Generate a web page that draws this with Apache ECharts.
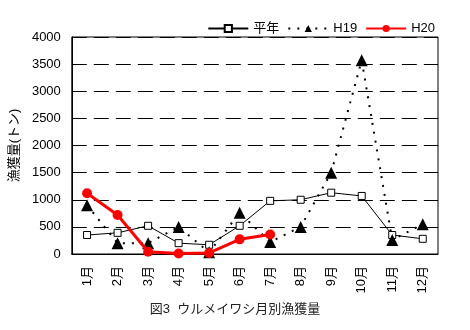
<!DOCTYPE html>
<html><head><meta charset="utf-8">
<script src="https://cdn.jsdelivr.net/npm/echarts@6/dist/echarts.min.js"></script>
<style>html,body{margin:0;padding:0;background:#fff}#c{width:470px;height:330px}</style>
</head><body><div id="c"></div>
<script>
var months = ['1月','2月','3月','4月','5月','6月','7月','8月','9月','10月','11月','12月'];
var heinen = [350, 390, 520, 200, 170, 520, 980, 1000, 1130, 1070, 350, 280];
var h19 = [900, 200, 200, 500, 30, 760, 220, 500, 1500, 3570, 260, 550];
var h20 = [1120, 720, 40, 10, 20, 270, 360];
var yTicks = [0, 500, 1000, 1500, 2000, 2500, 3000, 3500, 4000];
var FONT = '"Liberation Sans","Noto Sans CJK JP",sans-serif';

var chart = echarts.init(document.getElementById('c'));
chart.setOption({
  animation: false,
  textStyle: {fontFamily: FONT, color: '#000'},
  title: {
    text: '図3  ウルメイワシ月別漁獲量', left: 'center', top: 298,
    textStyle: {fontSize: 13, fontWeight: 'normal', color: '#222', fontFamily: FONT}
  },
  legend: {
    right: 30, top: 17, itemWidth: 40, itemHeight: 9, itemGap: 8,
    textStyle: {fontSize: 13, color: '#000', fontFamily: FONT},
    data: ['平年', 'H19', 'H20']
  },
  grid: {left: 68, right: 32, top: 37, bottom: 76, show: true, borderColor: '#000', borderWidth: 1},
  xAxis: {
    type: 'category', data: months, boundaryGap: true,
    axisLine: {lineStyle: {color: '#000', width: 1}},
    axisTick: {inside: true, length: 4, lineStyle: {color: '#000'}},
    axisLabel: {rotate: 90, fontSize: 13, color: '#000', margin: 12, fontFamily: FONT},
    splitLine: {show: false}
  },
  yAxis: {
    type: 'value', min: yTicks[0], max: yTicks[yTicks.length - 1], interval: 500,
    name: '漁獲量(トン)', nameLocation: 'middle', nameGap: 50, nameRotate: 90,
    nameTextStyle: {fontSize: 13, color: '#000', fontFamily: FONT},
    axisLine: {show: true, lineStyle: {color: '#000'}},
    axisTick: {show: false},
    axisLabel: {fontSize: 13, color: '#000', margin: 11, fontFamily: FONT,
      formatter: function (v) { return String(v); }},
    splitLine: {show: true, lineStyle: {color: '#000', type: [15, 7], width: 1}}
  },
  series: [
    {
      name: '平年', type: 'line', data: heinen,
      symbol: 'rect', symbolSize: 7,
      lineStyle: {color: '#000', width: 1},
      itemStyle: {color: '#fff', borderColor: '#000', borderWidth: 1},
      z: 2
    },
    {
      name: 'H19', type: 'line', data: h19,
      symbol: 'triangle', symbolSize: 12,
      lineStyle: {color: '#000', width: 2, type: [2, 7]},
      itemStyle: {color: '#000'},
      z: 3
    },
    {
      name: 'H20', type: 'line', data: h20,
      symbol: 'circle', symbolSize: 10,
      lineStyle: {color: '#ff0000', width: 3},
      itemStyle: {color: '#ff0000'},
      z: 4
    }
  ]
});
</script></body></html>
